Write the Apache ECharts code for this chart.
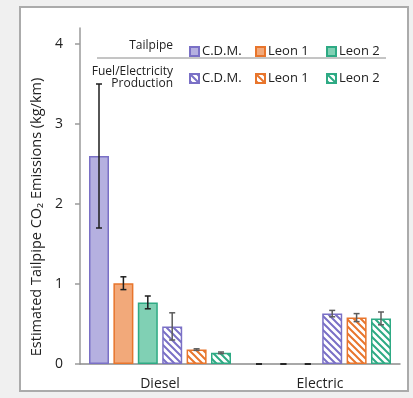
<!DOCTYPE html>
<html>
<head>
<meta charset="utf-8">
<script src="https://cdn.jsdelivr.net/npm/echarts@6/dist/echarts.min.js"></script>
<style>
  html, body { margin: 0; padding: 0; background: #f0f0f0; }
  .frame {
    position: absolute; left: 19px; top: 6px; width: 386px; height: 382px;
    background: #fff; border: 2px solid #ababab;
  }
  #chart { position: absolute; left: 0; top: 0; width: 413px; height: 398px; }
</style>
</head>
<body>
<div class="frame"></div>
<div id="chart"></div>
<script>
// data
const categories = ['Diesel', 'Electric'];
const tailpipeNames = ['C.D.M.', 'Leon 1', 'Leon 2'];
const tailpipeValues = [
  [2.6, 0],
  [1.01, 0],
  [0.77, 0],
];
const tailpipeErrors = [
  [0.9, 0],
  [0.08, 0],
  [0.08, 0],
];
const productionValues = [
  [0.47, 0.63],
  [0.18, 0.58],
  [0.14, 0.57],
];
const productionErrors = [
  [0.17, 0.04],
  [0.01, 0.05],
  [0.01, 0.08],
];
const yTicks = [0, 1, 2, 3, 4];

const fills = ['#b5b0e0', '#f2a97a', '#80d0b4'];
const strokes = ['#7a70c6', '#e8752c', '#2eaa84'];

const BAR_GAP = 0.22;
const CAT_GAP = 0.1125;

const makeHatch = (color) => {
  const c = document.createElement('canvas');
  c.width = 7;
  c.height = 7;
  const ctx = c.getContext('2d');
  ctx.fillStyle = '#fff';
  ctx.fillRect(0, 0, 7, 7);
  ctx.strokeStyle = color;
  ctx.lineWidth = 2;
  ctx.beginPath();
  ctx.moveTo(-1, -1); ctx.lineTo(8, 8);
  ctx.moveTo(-1, 6); ctx.lineTo(1, 8);
  ctx.moveTo(6, -1); ctx.lineTo(8, 1);
  ctx.stroke();
  return { image: c, repeat: 'repeat' };
};

const series = [];
tailpipeNames.forEach((name, i) => {
  series.push({
    name,
    type: 'bar',
    barGap: (BAR_GAP * 100) + '%',
    barCategoryGap: (CAT_GAP * 100) + '%',
    data: tailpipeValues[i].map((v) => ({
      value: v,
      itemStyle: v === 0 ? { borderWidth: 0 } : undefined,
    })),
    itemStyle: { color: fills[i], borderColor: strokes[i], borderWidth: 1.5 },
  });
});
tailpipeNames.forEach((name, i) => {
  series.push({
    name: name + ' fuel',
    type: 'bar',
    data: productionValues[i],
    itemStyle: { color: makeHatch(strokes[i]), borderColor: strokes[i], borderWidth: 1.5 },
  });
});

// error bars: [category index, value, error, bar slot]
const errData = [];
tailpipeNames.forEach((_, i) => {
  categories.forEach((_, c) => {
    errData.push([c, tailpipeValues[i][c], tailpipeErrors[i][c], i]);
    errData.push([c, productionValues[i][c], productionErrors[i][c], i + 3]);
  });
});

series.push({
  type: 'custom',
  z: 5,
  data: errData,
  encode: { x: 0, y: 1 },
  renderItem: (params, api) => {
    const cat = api.value(0);
    const v = api.value(1);
    const e = api.value(2);
    const slot = api.value(3);
    const band = api.size([1, 0])[0];
    const used = band * (1 - CAT_GAP);
    const w = used / (6 + 5 * BAR_GAP);
    const center = api.coord([cat, v])[0];
    const x = center - used / 2 + slot * w * (1 + BAR_GAP) + w / 2;
    const top = api.coord([cat, v + e])[1];
    const bot = api.coord([cat, v - e])[1];
    const color = slot < 3 ? '#1e1e1e' : '#5c5c5c';
    const style = { stroke: color, lineWidth: 1.5 };
    return {
      type: 'group',
      children: [
        { type: 'line', shape: { x1: x, y1: top, x2: x, y2: bot }, style },
        { type: 'line', shape: { x1: x - 3, y1: top, x2: x + 3, y2: top }, style },
        { type: 'line', shape: { x1: x - 3, y1: bot, x2: x + 3, y2: bot }, style },
      ],
    };
  },
});

const chart = echarts.init(document.getElementById('chart'));
const font = '"Open Sans", sans-serif';

// one legend per entry so the columns line up like the original
const legendCols = [184, 250, 321];
const legends = [];
tailpipeNames.forEach((name, i) => {
  [[name, 40], [name + ' fuel', 67]].forEach(([key, top]) => {
    legends.push({
      data: [key],
      left: legendCols[i],
      top,
      icon: 'rect',
      itemWidth: 9,
      itemHeight: 9,
      itemGap: 0,
      selectedMode: false,
      formatter: (n) => n.replace(' fuel', ''),
      textStyle: { fontFamily: font, fontSize: 13, color: '#222', padding: [0, 0, 0, -2] },
    });
  });
});

chart.setOption({
  animation: false,
  textStyle: { fontFamily: font },
  grid: { left: 80, right: 13, top: 28, bottom: 34 },
  legend: legends,
  graphic: [
    {
      type: 'text', x: 173, y: 46,
      style: { text: 'Tailpipe', font: '12px ' + font, fill: '#222', align: 'right', verticalAlign: 'middle' },
    },
    { type: 'line', shape: { x1: 97, y1: 58, x2: 386, y2: 58 }, style: { stroke: '#8a8a8a', lineWidth: 1 } },
    {
      type: 'text', x: 173, y: 66,
      style: { text: 'Fuel/Electricity\nProduction', font: '12px ' + font, fill: '#222', align: 'right', verticalAlign: 'top', lineHeight: 12 },
    },
  ],
  xAxis: {
    type: 'category',
    data: categories,
    axisLine: { lineStyle: { color: '#8c8c8c', width: 1.5 } },
    axisTick: { length: 5, lineStyle: { color: '#8c8c8c', width: 1.5 } },
    axisLabel: { color: '#222', fontSize: 14, margin: 13, fontFamily: font },
  },
  yAxis: {
    type: 'value',
    min: 0,
    max: 4.2,
    interval: 1,
    name: 'Estimated Tailpipe CO₂ Emissions (kg/km)',
    nameLocation: 'middle',
    nameGap: 34,
    nameTextStyle: { color: '#222', fontSize: 14.5, fontFamily: font, padding: [0, 42, 0, 0] },
    splitLine: { show: false },
    axisLine: { show: true, lineStyle: { color: '#9a9a9a', width: 1.5 } },
    axisTick: { show: true, length: 5, customValues: yTicks, lineStyle: { color: '#9a9a9a', width: 1.5 } },
    axisLabel: { color: '#222', fontSize: 14, margin: 17, customValues: yTicks, fontFamily: font },
  },
  series,
});
</script>
</body>
</html>
